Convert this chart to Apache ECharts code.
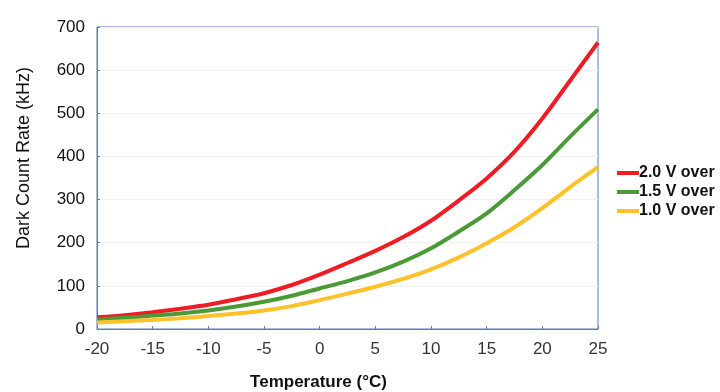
<!DOCTYPE html>
<html>
<head>
<meta charset="utf-8">
<script src="https://cdn.jsdelivr.net/npm/echarts@6/dist/echarts.min.js"></script>
<style>
  html, body { margin: 0; padding: 0; background: #fff; }
  #grafico { width: 720px; height: 392px; }
</style>
</head>
<body>
<div id="grafico"></div>
<script>
var temperaturas = [-20, -17.5, -15, -12.5, -10, -7.5, -5, -2.5, 0, 2.5, 5, 7.5, 10, 12.5, 15, 17.5, 20, 22.5, 25];
var serie20V = [27, 32, 39, 47, 56, 69, 83, 102, 126, 153, 181, 213, 251, 298, 349, 411, 488, 576, 664];
var serie15V = [22, 26, 31, 36, 43, 52, 63, 77, 94, 111, 131, 156, 187, 226, 268, 322, 380, 446, 509];
var serie10V = [15, 18, 21, 25, 30, 36, 43, 53, 67, 82, 98, 116, 138, 166, 199, 236, 280, 329, 375];
var nombres = ['2.0 V over', '1.5 V over', '1.0 V over'];
var colores = ['#ee1c25', '#4c9a36', '#fdc12a'];

function armarPuntos(valores){
  var puntos = [];
  for (var i = 0; i < temperaturas.length; i++) {
    puntos.push([temperaturas[i], valores[i]]);
  }
  return puntos;
}

function armarSerie(nombre, valores, color){
  return {
    name: nombre,
    type: 'line',
    smooth: 0.3,
    showSymbol: false,
    data: armarPuntos(valores),
    lineStyle: { color: color, width: 4 },
    itemStyle: { color: color }
  };
}

var myChart = echarts.init(document.getElementById('grafico'));
myChart.setOption({
  animation: false,
  color: colores,
  grid: {
    left: 97, right: 122, top: 27, bottom: 63,
    outerBoundsMode: 'none',
    containLabel: false,
    show: true, borderColor: '#5a7db5', borderWidth: 1
  },
  legend: {
    orient: 'vertical',
    left: 612,
    top: 160,
    itemWidth: 22,
    itemHeight: 4,
    itemGap: 3,
    icon: 'rect',
    textStyle: { fontFamily: 'Liberation Sans', fontSize: 16, fontWeight: 'bold', color: '#111', padding: [0, 0, 0, -5] },
    data: nombres
  },
  xAxis: {
    type: 'value',
    min: -20, max: 25, interval: 5,
    name: 'Temperature (°C)',
    nameLocation: 'middle',
    nameGap: 45,
    nameTextStyle: { fontFamily: 'Liberation Sans', fontSize: 17, fontWeight: 'bold', color: '#111', padding: [0, 58, 0, 0] },
    axisLine: { onZero: false, lineStyle: { color: '#5a7db5', width: 1 } },
    axisTick: { inside: true, length: 3, lineStyle: { color: '#5a7db5' } },
    axisLabel: { fontFamily: 'Liberation Sans', fontSize: 17, color: '#333', margin: 12 },
    splitLine: { show: false }
  },
  yAxis: {
    type: 'value',
    min: 0, max: 700, interval: 100,
    name: 'Dark Count Rate (kHz)',
    nameLocation: 'middle',
    nameGap: 64,
    nameTextStyle: { fontFamily: 'Liberation Sans', fontSize: 18, color: '#111', padding: [0, 0, 0, 40] },
    axisLine: { show: true, onZero: false, lineStyle: { color: '#5a7db5', width: 1 } },
    axisTick: { show: true, inside: true, length: 3, lineStyle: { color: '#5a7db5' } },
    axisLabel: { fontFamily: 'Liberation Sans', fontSize: 17, color: '#111', margin: 12 },
    splitLine: { show: true, lineStyle: { color: '#f0f0f0', width: 1 } }
  },
  series: [
    armarSerie(nombres[0], serie20V, colores[0]),
    armarSerie(nombres[1], serie15V, colores[1]),
    armarSerie(nombres[2], serie10V, colores[2])
  ]
});
</script>
</body>
</html>
